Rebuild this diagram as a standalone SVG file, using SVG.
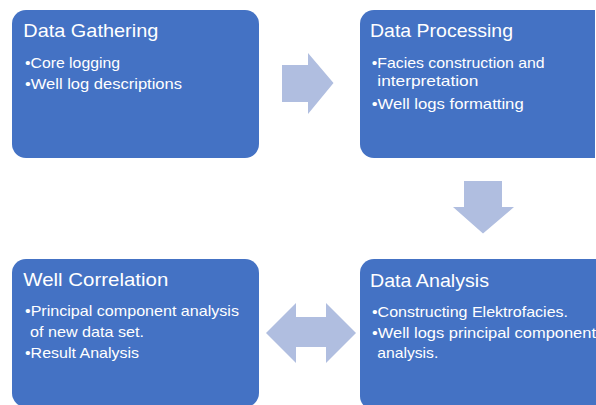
<svg xmlns="http://www.w3.org/2000/svg" width="596" height="405" viewBox="0 0 596 405">
  <style>
    .box { fill: #4472C4; }
    .arrow { fill: #B0BEE0; }
    text { font-family: "Liberation Sans", Arial, sans-serif; fill: #FFFFFF; }
    .title { font-size: 19px; }
    .item { font-size: 15px; }
  </style>
  <rect width="596" height="405" fill="#FFFFFF"/>

  <!-- connectors: block arrows between the stages -->
  <g id="connectors">
    <polygon class="arrow" points="282,65 308,65 308,53 333.5,83 308,114 308,102 282,102"/>
    <polygon class="arrow" points="464,181 502,181 502,207 514,207 483,233.5 453,207 464,207"/>
    <polygon class="arrow" points="266,333 296,303 296,317 326,317 326,303 356,333 326,363 326,347 296,347 296,363"/>
  </g>

  <g id="data-gathering">
    <rect class="box" x="12" y="10" width="247" height="148" rx="14"/>
    <text class="title" x="23.3" y="37" textLength="135" lengthAdjust="spacingAndGlyphs">Data Gathering</text>
    <text class="item" x="25" y="68" textLength="95" lengthAdjust="spacingAndGlyphs">•Core logging</text>
    <text class="item" x="25" y="89" textLength="157" lengthAdjust="spacingAndGlyphs">•Well log descriptions</text>
  </g>

  <g id="data-processing">
    <path class="box" d="M374,10 H595 V158 H374 A14,14 0 0 1 360,144 V24 A14,14 0 0 1 374,10 Z"/>
    <text class="title" x="370" y="37" textLength="143" lengthAdjust="spacingAndGlyphs">Data Processing</text>
    <text class="item" x="371.7" y="68" textLength="173" lengthAdjust="spacingAndGlyphs">•Facies construction and</text>
    <text class="item" x="377.3" y="86" textLength="101" lengthAdjust="spacingAndGlyphs">interpretation</text>
    <text class="item" x="371.7" y="109" textLength="152" lengthAdjust="spacingAndGlyphs">•Well logs formatting</text>
  </g>

  <g id="well-correlation">
    <rect class="box" x="12" y="259" width="247" height="148" rx="14"/>
    <text class="title" x="23.3" y="286" textLength="145" lengthAdjust="spacingAndGlyphs">Well Correlation</text>
    <text class="item" x="25" y="316" textLength="214" lengthAdjust="spacingAndGlyphs">•Principal component analysis</text>
    <text class="item" x="30" y="337" textLength="114" lengthAdjust="spacingAndGlyphs">of new data set.</text>
    <text class="item" x="25" y="358" textLength="114" lengthAdjust="spacingAndGlyphs">•Result Analysis</text>
  </g>

  <g id="data-analysis">
    <path class="box" d="M374,259 H600 V410 H374 A14,14 0 0 1 360,396 V273 A14,14 0 0 1 374,259 Z"/>
    <text class="title" x="370" y="287" textLength="119" lengthAdjust="spacingAndGlyphs">Data Analysis</text>
    <text class="item" x="372" y="317" textLength="196" lengthAdjust="spacingAndGlyphs">•Constructing Elektrofacies.</text>
    <text class="item" x="372" y="338" textLength="224" lengthAdjust="spacingAndGlyphs">•Well logs principal component</text>
    <text class="item" x="377.3" y="358" textLength="61" lengthAdjust="spacingAndGlyphs">analysis.</text>
  </g>
</svg>
